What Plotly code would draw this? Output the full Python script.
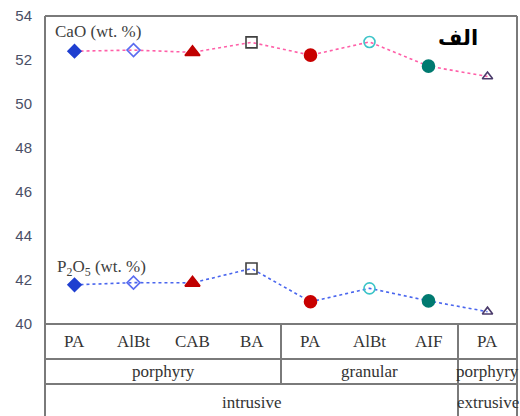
import plotly.graph_objects as go

# Sample groups along the x axis
categories = ["PA", "AlBt", "CAB", "BA", "PA", "AlBt", "AIF", "PA"]
textures = ["porphyry", "granular", "porphyry"]
settings = ["intrusive", "extrusive"]

# Mean oxide contents (wt. %)
cao = [52.40, 52.45, 52.35, 52.80, 52.22, 52.82, 51.72, 51.25]
p2o5 = [41.78, 41.88, 41.87, 42.52, 41.01, 41.62, 41.05, 40.56]

y_ticks = [40, 42, 44, 46, 48, 50, 52, 54]

# Per-group marker styling
symbols = ["diamond", "diamond-open", "triangle-up", "square-open",
           "circle", "circle-open", "circle", "triangle-up-open"]
colors = ["#1f3fd0", "#5a6cf0", "#c00000", "#404040",
          "#c80000", "#3cc4c8", "#007a70", "#4b3b6b"]
sizes = [10, 10, 13, 11, 12, 11, 12, 9]

xs = list(range(len(categories)))

fig = go.Figure()
for vals, lc in [(cao, "#ff5fa8"), (p2o5, "#4a66ee")]:
    fig.add_trace(go.Scatter(
        x=xs, y=vals, mode="lines+markers",
        line=dict(color=lc, width=1.6, dash="dot"),
        marker=dict(symbol=symbols, color=colors, size=sizes, opacity=1,
                    line=dict(color=colors, width=1.6)),
        showlegend=False, hoverinfo="skip",
    ))

frame = "#7a7a7a"
shapes = []
# Plot frame and table outline
shapes.append(dict(type="line", xref="paper", yref="paper", x0=0, x1=1, y0=1, y1=1,
                   line=dict(color=frame, width=2)))
shapes.append(dict(type="line", xref="paper", yref="paper", x0=0, x1=0, y0=1, y1=-0.32,
                   line=dict(color=frame, width=2)))
shapes.append(dict(type="line", xref="paper", yref="paper", x0=1, x1=1, y0=1, y1=-0.32,
                   line=dict(color=frame, width=2)))
for yp in [0, -0.1136, -0.1948]:
    shapes.append(dict(type="line", xref="paper", yref="paper", x0=0, x1=1, y0=yp, y1=yp,
                       line=dict(color=frame, width=2)))
# Group separators in the table
shapes.append(dict(type="line", xref="x", yref="paper", x0=3.5, x1=3.5, y0=0, y1=-0.1948,
                   line=dict(color=frame, width=2)))
shapes.append(dict(type="line", xref="x", yref="paper", x0=6.5, x1=6.5, y0=0, y1=-0.32,
                   line=dict(color=frame, width=2)))

serif = dict(family="Liberation Serif, Times New Roman, serif", size=17, color="#333333")
annotations = []
for i, c in enumerate(categories):
    annotations.append(dict(x=i, y=-0.058, xref="x", yref="paper", text=c,
                            yanchor="middle", showarrow=False, font=serif))
for xpos, t in zip([1.5, 5, 7], textures):
    annotations.append(dict(x=xpos, y=-0.153, xref="x", yref="paper", text=t,
                            yanchor="middle", showarrow=False, font=serif))
for xpos, t in zip([3, 7], settings):
    annotations.append(dict(x=xpos, y=-0.256, xref="x", yref="paper", text=t,
                            yanchor="middle", showarrow=False, font=serif))

label_font = dict(family="Liberation Serif, Times New Roman, serif", size=17, color="#404040")
annotations.append(dict(x=0.017, y=0.951, xref="paper", yref="paper", xanchor="left",
                        yanchor="middle", text="CaO (wt. %)", showarrow=False,
                        font=label_font))
annotations.append(dict(x=0.021, y=0.182, xref="paper", yref="paper", xanchor="left",
                        yanchor="middle", text="P<sub>2</sub>O<sub>5</sub> (wt. %)",
                        showarrow=False, font=label_font))
# Panel letter (right-to-left text is offset so it centres on its anchor)
annotations.append(dict(x=0.877, y=0.929, xref="paper", yref="paper", xshift=21,
                        yanchor="middle", text="<b>الف</b>", showarrow=False,
                        font=dict(family="DejaVu Sans", size=21, color="#000000")))

fig.update_layout(
    width=520, height=416,
    margin=dict(l=45, r=3, t=16, b=92),
    paper_bgcolor="white", plot_bgcolor="white",
    shapes=shapes, annotations=annotations,
    xaxis=dict(range=[-0.5, 7.5], showticklabels=False, showgrid=False,
               zeroline=False, ticks=""),
    yaxis=dict(range=[40, 54], tickvals=y_ticks, showgrid=False, zeroline=False,
               ticks="", ticklabelstandoff=12,
               tickfont=dict(family="Liberation Sans, Arial, sans-serif", size=15,
                             color="#4a4f66")),
)

fig.write_html("out.html")
